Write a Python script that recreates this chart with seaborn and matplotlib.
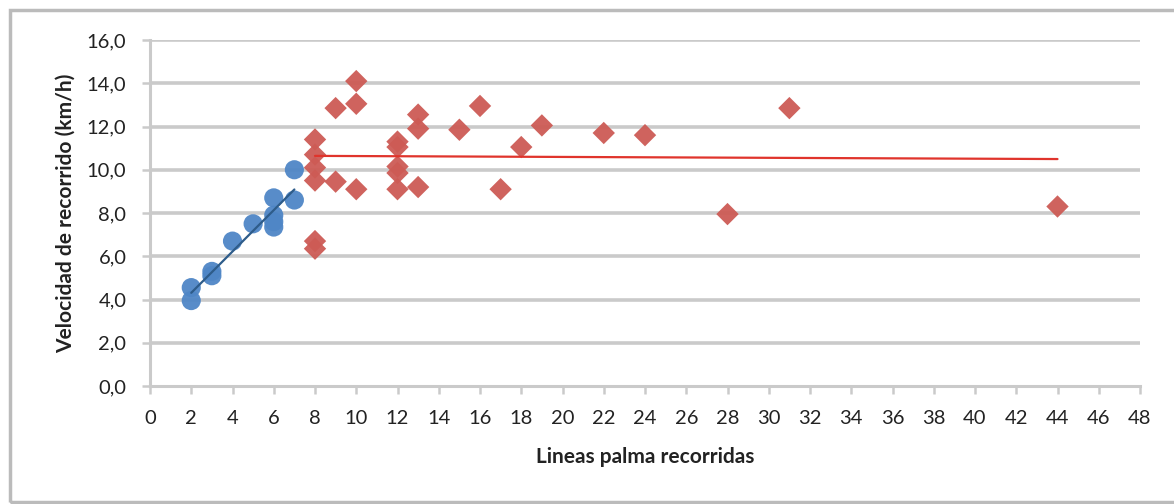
import numpy as np
import pandas as pd
import matplotlib
matplotlib.use("Agg")
import matplotlib.pyplot as plt
import seaborn as sns
from matplotlib.patches import Rectangle

# ---- data ----
blue_x = [2, 2, 3, 3, 4, 5, 6, 6, 6, 6, 7, 7]
blue_y = [4.55, 3.95, 5.3, 5.1, 6.7, 7.5, 8.7, 7.9, 7.6, 7.35, 10.0, 8.6]

red_x = [8, 8, 8, 8, 8, 8, 9, 9, 10, 10, 10, 12, 12, 12, 12, 12,
         13, 13, 13, 15, 16, 17, 18, 19, 22, 24, 28, 31, 44]
red_y = [11.4, 10.7, 10.1, 9.5, 6.7, 6.35, 12.85, 9.45, 14.1, 13.05, 9.1,
         11.3, 11.05, 10.15, 9.85, 9.1, 12.55, 11.9, 9.2, 11.85, 12.95,
         9.1, 11.05, 12.05, 11.7, 11.6, 7.95, 12.85, 8.3]

x_ticks = list(range(0, 49, 2))
y_ticks = [0, 2, 4, 6, 8, 10, 12, 14, 16]
y_tick_labels = ["0,0", "2,0", "4,0", "6,0", "8,0", "10,0", "12,0", "14,0", "16,0"]

x_title = "Lineas palma recorridas"
y_title = "Velocidad de recorrido (km/h)"

blue_df = pd.DataFrame({"x": blue_x, "y": blue_y})
red_df = pd.DataFrame({"x": red_x, "y": red_y})

sns.set_theme(style="white")
plt.rcParams["font.family"] = ["Lato", "DejaVu Sans"]

W, H = 1174, 504
fig = plt.figure(figsize=(W / 100, H / 100), dpi=100)
ax = fig.add_axes([150 / W, 1 - 386 / H, (1140 - 150) / W, (386 - 40) / H])

# outer chart frame
fig.patches.append(Rectangle((10 / W, 2 / H), 1.2, (502 - 10) / H, transform=fig.transFigure,
                             fill=False, edgecolor="#BBBBBB", linewidth=2.5, zorder=0))

grid_c = "#CACACA"
for v in y_ticks[1:]:
    ax.axhline(v, color=grid_c, linewidth=2.6, zorder=0)

blue_c = "#4F86C6"
red_c = "#CD5B55"

sns.scatterplot(data=blue_df, x="x", y="y", ax=ax, color=blue_c, marker="o",
                s=190, edgecolor="none", alpha=0.95, zorder=3, legend=False)
sns.scatterplot(data=red_df, x="x", y="y", ax=ax, color=red_c, marker="D",
                s=130, edgecolor="none", alpha=0.95, zorder=3, legend=False)

sns.regplot(data=blue_df, x="x", y="y", ax=ax, scatter=False, ci=None,
            line_kws={"color": "#2E5C8A", "linewidth": 1.6, "zorder": 4})
sns.regplot(data=red_df, x="x", y="y", ax=ax, scatter=False, ci=None,
            line_kws={"color": "#E0342C", "linewidth": 1.6, "zorder": 4})

ax.set_xlim(0, 48)
ax.set_ylim(0, 16)
ax.set_xticks(x_ticks)
ax.set_xticklabels([str(t) for t in x_ticks])
ax.set_yticks(y_ticks)
ax.set_yticklabels(y_tick_labels)

for side in ["top", "right"]:
    ax.spines[side].set_visible(False)
for side in ["left", "bottom"]:
    ax.spines[side].set_color(grid_c)
    ax.spines[side].set_linewidth(2.2)

ax.tick_params(axis="both", which="major", direction="out", length=6, width=1.8,
               color=grid_c, labelsize=14.5, labelcolor="#222222")
ax.tick_params(axis="x", pad=11)
ax.tick_params(axis="y", pad=11, left=True)
ax.tick_params(axis="x", bottom=True)

ax.set_xlabel(x_title, fontsize=15, fontweight="bold", color="#222222", labelpad=15)
ax.set_ylabel(y_title, fontsize=15, fontweight="bold", color="#222222", labelpad=8)

fig.savefig("out.png", dpi=100)
